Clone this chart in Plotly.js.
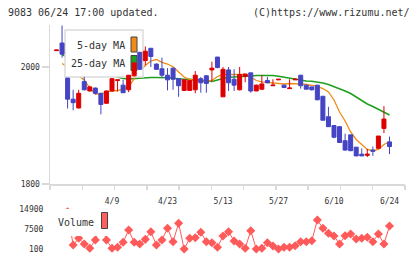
<!DOCTYPE html>
<html><head><meta charset="utf-8">
<script src="https://cdn.plot.ly/plotly-3.0.1.min.js"></script>
<style>html,body{margin:0;padding:0;background:#fff;}#chart{width:420px;height:259px;}</style>
</head><body><div id="chart"></div>
<script>
// ---- data ----
const openP  = [2028,2041,1981,1945,1930,1975,1959,1964,1955,1938,1959,1977,1969,1961,1985,2025,2011,2032,2005,1997,1986,1998,1980,1960,1960,1961,1980,1985,1995,2017,1949,1995,1979,1961,1984,1990,1959,1962,1977,1968,1978,1969,1963,1978,1986,1969,1966,1969,1950,1915,1900,1898,1874,1884,1863,1851,1849,1858,1861,1895,1872];
const highP  = [2029,2071,1981,1961,1961,1983,1968,1965,1956,1960,1981,1978,1978,1986,2008,2026,2035,2032,2006,2016,1998,1999,1980,1978,1977,1993,1983,1986,2009,2017,2000,2000,1996,2000,1988,1990,1970,1986,1983,1979,1979,1970,1979,1981,1986,1970,1966,1969,1950,1932,1900,1898,1886,1884,1863,1861,1860,1864,1882,1933,1881];
const lowP   = [2028,2016,1929,1926,1929,1960,1958,1953,1919,1937,1958,1958,1956,1957,1984,1995,2003,2000,1995,1982,1960,1961,1949,1959,1959,1955,1956,1956,1975,1998,1949,1959,1959,1960,1974,1956,1959,1961,1972,1968,1978,1964,1963,1978,1963,1962,1960,1943,1909,1898,1878,1870,1857,1856,1848,1848,1846,1848,1860,1887,1851];
const closeP = [2029,2022,1945,1939,1955,1961,1966,1955,1936,1959,1980,1978,1956,1986,2007,1996,2027,2018,1996,1986,1978,1979,1968,1978,1977,1986,1973,1972,1998,1999,1996,1973,1969,1987,1988,1959,1969,1971,1973,1969,1979,1965,1964,1979,1968,1962,1961,1944,1909,1898,1880,1871,1858,1857,1848,1848,1851,1856,1882,1911,1864];
const ma5  = [null,2006.0,2000.0,1991.5,1984.6,1977.8,1964.1,1953.8,1953.8,1957.3,1959.0,1959.8,1962.4,1966.3,1979.5,1993.2,2002.6,2010.3,2012.8,2008.0,2005.1,2000.5,1991.5,1982.9,1978.6,1977.8,1976.1,1975.2,1976.9,1983.8,1987.5,1987.5,1987.5,1987.5,1987.2,1982.9,1976.9,1974.4,1973.5,1971.8,1970.9,1970.9,1971.8,1971.8,1970.9,1970.1,1968.4,1966.7,1963.2,1957.3,1943.6,1923.1,1907.7,1888.9,1876.1,1866.7,1859.0,1856.9,1859.0,1867.5,1872.3];
const ma25 = [null,2021.4,2017.1,2012.0,2006.8,2002.6,1998.3,1994.9,1991.5,1988.0,1985.5,1982.9,1980.3,1979.5,1980.3,1981.2,1982.1,1982.1,1982.1,1982.4,1981.5,1980.7,1979.5,1979.1,1979.0,1977.8,1977.3,1976.6,1975.2,1977.8,1980.3,1982.4,1982.9,1983.2,1983.8,1984.6,1985.5,1985.8,1985.8,1985.5,1984.1,1982.4,1980.7,1979.5,1976.6,1976.1,1975.6,1974.4,1972.6,1970.1,1966.7,1963.2,1959.0,1954.7,1948.7,1942.7,1936.8,1932.5,1927.4,1923.1,1917.9];
const volume = [8000,9000,14000,1590,4090,1960,360,3460,9500,3460,360,730,2600,7180,2600,1960,3700,6550,1590,3460,7820,2820,9680,100,4090,4310,6330,2820,2450,730,4950,6550,3080,1960,360,6920,100,360,2450,1220,100,730,730,1330,2820,2820,3200,10900,7820,5950,4950,1960,5060,5690,3830,4090,4460,2820,5690,1960,8670];
const tickIdx = [10,20,30,40,50,60];
const tickLabels = ['4/9','4/23','5/13','5/27','6/10','6/24'];
const priceTicks = [1800,2000];
const volTicks = [100,7500,14900];
const idx = openP.map((_, i) => i);

// ---- geometry (px) ----
const W = 420, H = 259;
const PL = 50, PR = 405, PT = 25, PB = 184;
const VT = 209.3, VB = 249;
const X0 = 56.5, DX = 5.55;
const xr = [(PL - X0) / DX, (PR - X0) / DX];
const yr = [1800, 2000 + (67 - PT) * 200 / 117];
const toX = px => (px - X0) / DX;
const toY = py => 2000 - (py - 67) * 200 / 117;
const FONT = 'DejaVu Sans Mono';
const GRAY = '#d9d9d9';
const xdom = [PL / W, PR / W];

const data = [
  {type:'scatter', mode:'lines', x: idx, y: ma25, xaxis:'x', yaxis:'y',
   line:{color:'#1ea01e', width:1.6}, hoverinfo:'skip', showlegend:false},
  {type:'scatter', mode:'lines', x: idx, y: ma5, xaxis:'x', yaxis:'y',
   line:{color:'#f08c14', width:1.3}, hoverinfo:'skip', showlegend:false},
  {type:'candlestick', x: idx, open: openP, high: highP, low: lowP, close: closeP,
   xaxis:'x2', yaxis:'y2', whiskerwidth:0,
   increasing:{line:{color:'#dd0000', width:1}, fillcolor:'#dd0000'},
   decreasing:{line:{color:'#4444c4', width:1}, fillcolor:'#4444c4'},
   hoverinfo:'skip', showlegend:false},
  {type:'scatter', mode:'lines+markers', x: idx, y: volume, xaxis:'x3', yaxis:'y3',
   line:{color:'#ff5a5a', width:1}, marker:{symbol:'diamond', size:7, color:'#ff5a5a'},
   cliponaxis:false, hoverinfo:'skip', showlegend:false}
];

const layout = {
  width: W, height: H, margin:{l:0,r:0,t:0,b:0},
  paper_bgcolor:'#fff', plot_bgcolor:'rgba(0,0,0,0)', showlegend:false,
  boxgap:0.28, boxgroupgap:0,
  font:{family:FONT, size:8, color:'#333'},
  xaxis:{domain:xdom, range:xr, anchor:'y', showline:true, linecolor:GRAY, linewidth:1.5,
    showgrid:false, zeroline:false, tickmode:'array', tickvals:tickIdx, ticktext:tickLabels,
    ticks:'outside', ticklen:9, tickcolor:'rgba(0,0,0,0)', tickfont:{family:FONT, size:8, color:'#333'}},
  yaxis:{domain:[(H-PB)/H, (H-PT)/H], range:yr, anchor:'x', showline:true, linecolor:GRAY, linewidth:1.5,
    showgrid:false, zeroline:false, tickmode:'array', tickvals:priceTicks, ticktext:priceTicks.map(String),
    ticks:'outside', ticklen:7, tickcolor:GRAY, tickwidth:1.5, tickfont:{family:FONT, size:8, color:'#333'}},
  xaxis2:{domain:xdom, range:xr, anchor:'y2', showline:false, showgrid:false, zeroline:false,
    tickmode:'linear', tick0:xr[0], dtick:(xr[1]-xr[0])/11*0.99999, ticks:'outside', ticklen:5,
    tickcolor:GRAY, tickwidth:1.5, showticklabels:false, rangeslider:{visible:false}},
  yaxis2:{domain:[(H-PB)/H, (H-PT)/H], range:yr, anchor:'x2', visible:false},
  xaxis3:{domain:xdom, range:xr, anchor:'y3', visible:false},
  yaxis3:{domain:[(H-VB)/H, (H-VT)/H], range:[100,14900], anchor:'x3', showline:false, showgrid:false,
    zeroline:false, tickmode:'array', tickvals:volTicks, ticktext:volTicks.map(String),
    ticks:'outside', ticklen:4, tickcolor:'rgba(0,0,0,0)', tickfont:{family:FONT, size:8, color:'#333'}},
  shapes:[
    {type:'rect', xref:'x2', yref:'y2', layer:'below', x0:toX(65), x1:toX(143), y0:toY(30), y1:toY(77),
     fillcolor:'#fff', line:{color:'#dcdcdc', width:1.5}},
    {type:'rect', xref:'x2', yref:'y2', layer:'below', x0:toX(131), x1:toX(137), y0:toY(37), y1:toY(52),
     fillcolor:'#f08c14', line:{color:'#444', width:1}},
    {type:'rect', xref:'x2', yref:'y2', layer:'below', x0:toX(131), x1:toX(137), y0:toY(55.5), y1:toY(70.5),
     fillcolor:'#1ea01e', line:{color:'#444', width:1}},
    {type:'rect', xref:'paper', yref:'paper', layer:'above', x0:52/W, x1:110/W, y0:(H-236)/H, y1:(H-209)/H,
     fillcolor:'#fff', line:{width:0}},
    {type:'rect', xref:'paper', yref:'paper', layer:'above', x0:101.5/W, x1:107.5/W, y0:(H-228.5)/H, y1:(H-212.5)/H,
     fillcolor:'#ff5f5f', line:{color:'#444', width:1}}
  ],
  annotations:[
    {xref:'paper', yref:'paper', x:6/W, y:(H-12.5)/H, xanchor:'left', yanchor:'middle', showarrow:false,
     text:'9083 06/24 17:00 updated.', font:{family:FONT, size:10, color:'#333'}},
    {xref:'paper', yref:'paper', x:412/W, y:(H-12.5)/H, xanchor:'right', yanchor:'middle', showarrow:false,
     text:'(C)https://www.rizumu.net/', font:{family:FONT, size:10, color:'#333'}},
    {xref:'paper', yref:'paper', x:127/W, y:(H-46)/H, xanchor:'right', yanchor:'middle', showarrow:false,
     text:'5-day MA', font:{family:FONT, size:10, color:'#333'}},
    {xref:'paper', yref:'paper', x:127/W, y:(H-63.3)/H, xanchor:'right', yanchor:'middle', showarrow:false,
     text:'25-day MA', font:{family:FONT, size:10, color:'#333'}},
    {xref:'paper', yref:'paper', x:56/W, y:(H-222)/H, xanchor:'left', yanchor:'middle', showarrow:false,
     text:'Volume', font:{family:FONT, size:10, color:'#333'}}
  ]
};

Plotly.newPlot('chart', data, layout, {staticPlot:true, displayModeBar:false});
</script></body></html>
